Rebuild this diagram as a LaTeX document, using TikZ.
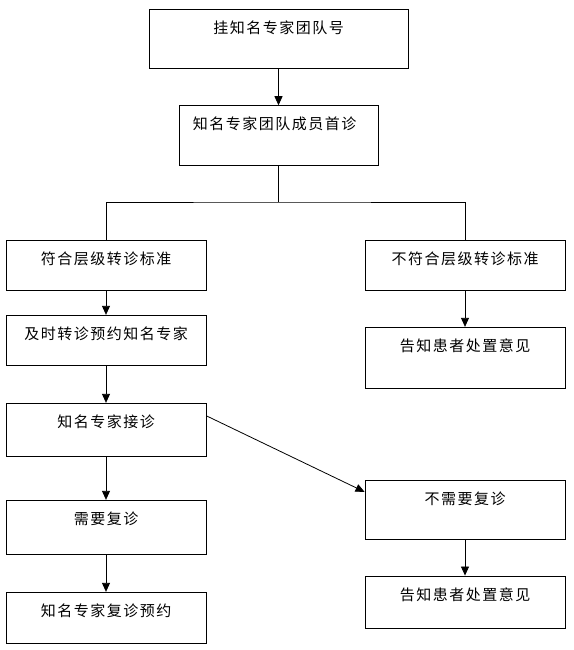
\documentclass[tikz,border=0pt]{standalone}
\usepackage{fontspec}
\newfontfamily\cjk[LetterSpace=10]{Noto Sans CJK SC}
\usetikzlibrary{arrows.meta}
\begin{document}
\begin{tikzpicture}[x=1pt,y=-1pt,
    caja/.style 2 args={draw, line width=0.9pt, inner sep=0pt, minimum width=#1pt, minimum height=#2pt},
    texto/.style={anchor=center, inner sep=0pt, yshift=-19pt, font=\cjk\fontsize{15}{18}\selectfont},
    flecha/.style={line width=0.8pt, -{Triangle[length=9pt,width=8pt]}}]
    \useasboundingbox (0,0) rectangle (573,650);

    % Cajas
    \node[caja={259}{59}, label={[texto]north:挂知名专家团队号}] (guahao) at (278.5,38.8) {};
    \node[caja={199}{59.6}, label={[texto,xshift=-4pt]north:知名专家团队成员首诊}] (shouzhen) at (278.5,135.5) {};
    \node[caja={200}{50}, label={[texto]north:符合层级转诊标准}] (fuhe) at (106,265.3) {};
    \node[caja={200}{50}, label={[texto]north:不符合层级转诊标准}] (bufuhe) at (465,265.3) {};
    \node[caja={200}{50}, label={[texto]north:及时转诊预约知名专家}] (zhuanzhen) at (106,340.3) {};
    \node[caja={200}{61}, label={[texto]north:告知患者处置意见}] (gaozhia) at (465,357.8) {};
    \node[caja={200}{53}, label={[texto]north:知名专家接诊}] (jiezhen) at (106,429.8) {};
    \node[caja={200}{54}, label={[texto]north:需要复诊}] (fuzhen) at (106,527.3) {};
    \node[caja={200}{51}, label={[texto]north:知名专家复诊预约}] (yuyue) at (106,617.8) {};
    \node[caja={200}{59}, label={[texto]north:不需要复诊}] (bufuzhen) at (465,509.8) {};
    \node[caja={200}{52}, label={[texto]north:告知患者处置意见}] (gaozhib) at (465,602) {};

    % Ramas
    \coordinate (fen) at (278.5,202);
    \draw[line width=0.8pt] (shouzhen) -- (fen);
    \draw[line width=0.8pt] (fuhe.north) |- (fen) -| (bufuhe.north);

    % Flechas
    \draw[flecha] (guahao) -- (shouzhen);
    \draw[flecha] (fuhe) -- (zhuanzhen);
    \draw[flecha] (bufuhe) -- (gaozhia);
    \draw[flecha] (zhuanzhen) -- (jiezhen);
    \draw[flecha] (jiezhen) -- (fuzhen);
    \draw[flecha] (fuzhen) -- (yuyue);
    \draw[flecha] ([yshift=-13pt]jiezhen.north east) -- ([yshift=-12pt]bufuzhen.north west);
    \draw[flecha] (bufuzhen) -- (gaozhib);
\end{tikzpicture}
\end{document}
